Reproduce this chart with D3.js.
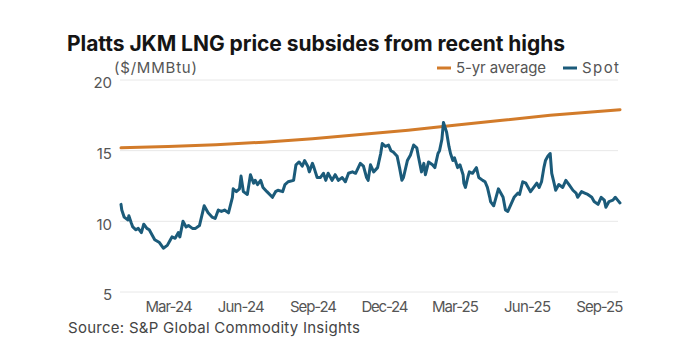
<!DOCTYPE html>
<html><head><meta charset="utf-8">
<script src="https://cdn.jsdelivr.net/npm/d3@7"></script>
<style>
html,body{margin:0;padding:0;background:#fff;}
text{font-family:"Inter","Roboto",sans-serif;}
</style></head>
<body>
<svg id="c" width="700" height="353"></svg>
<script>
const title = "Platts JKM LNG price subsides from recent highs";
const unitLabel = "($/MMBtu)";
const source = "Source: S&P Global Commodity Insights";
const seriesNames = ["5-yr average", "Spot"];
const yTicks = [5, 10, 15, 20];
const xTickDates = ["2024-03-01","2024-06-01","2024-09-01","2024-12-01","2025-03-01","2025-06-01","2025-09-01"];
const xTickLabels = ["Mar-24","Jun-24","Sep-24","Dec-24","Mar-25","Jun-25","Sep-25"];

const avgDates = ["2024-01-01","2024-03-01","2024-05-01","2024-07-01","2024-09-01","2024-11-01","2025-01-01","2025-03-01","2025-05-01","2025-07-01","2025-09-28"];
const avgValues = [15.2,15.3,15.42,15.6,15.85,16.15,16.45,16.8,17.15,17.5,17.9];

const spotDates = [
"2024-01-01","2024-01-02","2024-01-05","2024-01-10","2024-01-11","2024-01-14","2024-01-16","2024-01-20","2024-01-23","2024-01-27",
"2024-01-30","2024-02-03","2024-02-06","2024-02-10","2024-02-13","2024-02-19","2024-02-24","2024-02-29","2024-03-04","2024-03-06",
"2024-03-10","2024-03-14","2024-03-16","2024-03-20","2024-03-24","2024-03-27","2024-04-01","2024-04-05","2024-04-10","2024-04-16",
"2024-04-21","2024-04-26","2024-04-30","2024-05-04","2024-05-08","2024-05-12","2024-05-17","2024-05-22","2024-05-23","2024-05-27",
"2024-05-31","2024-06-02","2024-06-05","2024-06-10","2024-06-14","2024-06-18","2024-06-20","2024-06-23","2024-06-27","2024-06-30",
"2024-07-05","2024-07-12","2024-07-16","2024-07-19","2024-07-25","2024-07-28","2024-08-01","2024-08-08","2024-08-11","2024-08-15",
"2024-08-19","2024-08-22","2024-08-26","2024-08-28","2024-09-01","2024-09-03","2024-09-07","2024-09-11","2024-09-15","2024-09-18",
"2024-09-21","2024-09-26","2024-09-30","2024-10-04","2024-10-09","2024-10-13","2024-10-17","2024-10-22","2024-10-26","2024-11-01",
"2024-11-05","2024-11-09","2024-11-11","2024-11-14","2024-11-18","2024-11-23","2024-11-27","2024-11-29","2024-12-03","2024-12-07",
"2024-12-10","2024-12-13","2024-12-18","2024-12-21","2024-12-24","2024-12-26","2024-12-31","2025-01-04","2025-01-08","2025-01-12",
"2025-01-14","2025-01-18","2025-01-21","2025-01-23","2025-01-27","2025-02-01","2025-02-04","2025-02-08","2025-02-10","2025-02-13",
"2025-02-15","2025-02-19","2025-02-22","2025-02-24","2025-02-27","2025-03-01","2025-03-05","2025-03-08","2025-03-12","2025-03-13",
"2025-03-15","2025-03-18","2025-03-20","2025-03-24","2025-03-29","2025-04-01","2025-04-06","2025-04-09","2025-04-12","2025-04-15",
"2025-04-16","2025-04-20","2025-04-23","2025-04-26","2025-05-02","2025-05-05","2025-05-08","2025-05-12","2025-05-16","2025-05-21",
"2025-05-23","2025-05-27","2025-05-31","2025-06-03","2025-06-06","2025-06-10","2025-06-14","2025-06-17","2025-06-20","2025-06-23",
"2025-06-25","2025-06-28","2025-07-01","2025-07-03","2025-07-06","2025-07-08","2025-07-12","2025-07-17","2025-07-21","2025-07-25",
"2025-07-30","2025-08-03","2025-08-05","2025-08-10","2025-08-14","2025-08-18","2025-08-23","2025-08-26","2025-08-31","2025-09-04",
"2025-09-08","2025-09-10","2025-09-14","2025-09-19","2025-09-22","2025-09-25","2025-09-28"];
const spotValues = [
11.2,10.8,10.3,10.1,10.4,9.9,9.6,9.4,9.5,9.2,
9.8,9.5,9.4,9.0,8.7,8.5,8.1,8.3,8.7,8.9,
8.8,9.2,8.9,10.0,9.6,9.7,9.5,9.5,9.7,11.1,
10.6,10.3,10.2,10.8,10.7,10.8,10.6,11.7,12.3,12.1,
12.3,13.2,12.1,11.9,13.3,12.7,12.9,12.6,12.9,12.4,
12.1,11.7,12.1,12.2,12.1,12.6,12.8,12.9,14.0,14.2,
13.9,14.3,13.9,13.5,14.1,13.8,13.1,13.1,13.4,12.9,
13.4,12.9,13.3,12.9,13.1,12.8,13.4,13.5,13.4,14.1,
13.9,13.1,12.9,14.0,13.5,13.8,14.8,15.5,15.3,15.4,
15.0,14.9,14.6,13.8,12.9,13.1,14.3,14.7,15.4,15.2,
14.6,13.5,14.1,13.3,14.2,14.0,13.8,14.8,15.0,15.8,
17.0,16.3,15.3,14.8,14.3,14.5,13.8,14.0,13.3,12.7,
12.4,13.1,13.5,13.4,13.8,13.1,12.9,12.8,12.4,11.7,
11.4,11.1,11.7,12.3,11.7,10.8,10.7,11.2,11.7,12.0,
11.9,12.8,12.7,12.4,12.1,12.4,12.7,12.4,12.8,13.8,
14.3,14.6,14.8,13.4,12.7,12.2,12.6,12.4,12.9,12.6,
12.2,12.0,11.7,12.1,12.0,11.9,11.7,11.4,11.2,11.7,
11.5,11.0,11.4,11.5,11.7,11.5,11.3];

const parse = d3.timeParse("%Y-%m-%d");
const avg = avgDates.map((d,i)=>({date:parse(d), v:avgValues[i]}));
const spot = spotDates.map((d,i)=>({date:parse(d), v:spotValues[i]}));

const svg = d3.select("#c");
const colors = {avg:"#d27b2a", spot:"#1b5b7a"};

const x = d3.scaleTime().domain([parse("2024-01-01"), parse("2025-09-28")]).range([121, 620]);
const y = d3.scaleLinear().domain([5, 20]).range([292, 80]);

function fitWidth(node, target){
  const n = node.text().length;
  const w = node.node().getComputedTextLength();
  node.attr("letter-spacing", ((target - w) / (n - 1)).toFixed(3));
}

// title
const t = svg.append("text").attr("x", 67).attr("y", 51)
  .attr("font-size", 21).attr("font-weight", 700).attr("fill", "#151515").text(title);
fitWidth(t, 498);

// gridlines
svg.append("g").selectAll("line").data(yTicks).join("line")
  .attr("x1", 120).attr("x2", 618).attr("y1", d=>y(d)).attr("y2", d=>y(d))
  .attr("stroke", "#e8e8e8").attr("stroke-width", 1);

// y axis labels
const yAxis = d3.axisLeft(y).tickValues(yTicks).tickSize(0).tickPadding(0);
const gy = svg.append("g").attr("transform","translate(112,3)").call(yAxis);
gy.select(".domain").remove();
gy.selectAll("text").attr("font-size", 15).attr("fill", "#555").attr("font-family","Inter, sans-serif");

// x axis labels
const xAxis = d3.axisBottom(x).tickValues(xTickDates.map(parse)).tickFormat((d,i)=>xTickLabels[i]).tickSize(0).tickPadding(0);
const gx = svg.append("g").attr("transform","translate(0,301)").call(xAxis);
gx.select(".domain").remove();
gx.selectAll("text").attr("font-size", 15).attr("fill", "#555").attr("font-family","Inter, sans-serif")
  .each(function(){ fitWidth(d3.select(this), 47); });

// unit label
const u = svg.append("text").attr("x", 114).attr("y", 73).attr("font-size", 15).attr("fill", "#555").text(unitLabel);
fitWidth(u, 83);

// lines
const line = d3.line().x(d=>x(d.date)).y(d=>y(d.v)).curve(d3.curveLinear);
svg.append("path").datum(avg).attr("d", line).attr("fill","none").attr("stroke", colors.avg).attr("stroke-width", 3).attr("stroke-linecap","round");
svg.append("path").datum(spot).attr("d", line).attr("fill","none").attr("stroke", colors.spot).attr("stroke-width", 3).attr("stroke-linejoin","round").attr("stroke-linecap","round");

// legend
const legend = [{name:seriesNames[0], c:colors.avg, x:437, w:90},{name:seriesNames[1], c:colors.spot, x:563, w:37}];
const lg = svg.append("g").selectAll("g").data(legend).join("g");
lg.append("line").attr("x1", d=>d.x).attr("x2", d=>d.x+14).attr("y1", 68).attr("y2", 68).attr("stroke", d=>d.c).attr("stroke-width", 3);
lg.append("text").attr("x", d=>d.x+19).attr("y", 73).attr("font-size", 15).attr("fill", "#555").text(d=>d.name)
  .each(function(d){ fitWidth(d3.select(this), d.w); });

// source
const s = svg.append("text").attr("x", 68).attr("y", 333).attr("font-size", 15).attr("fill", "#444").text(source);
fitWidth(s, 292);
</script>
</body></html>
